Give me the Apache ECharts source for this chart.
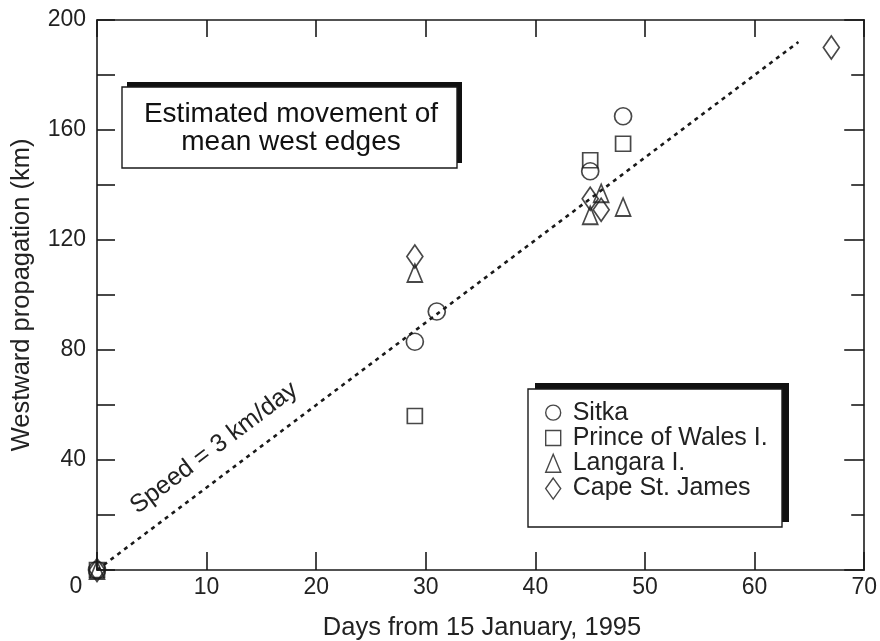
<!DOCTYPE html>
<html><head><meta charset="utf-8">
<script src="https://cdn.jsdelivr.net/npm/echarts@6/dist/echarts.min.js"></script>
<style>html,body{margin:0;padding:0;background:#fff}#c{width:880px;height:641px}</style>
</head><body><div id="c"></div>
<script>
// Data
const sitkaX = [0, 29, 31, 45, 48];
const sitkaY = [0, 83, 94, 145, 165];
const princeX = [0, 29, 45, 48];
const princeY = [0, 56, 149, 155];
const langaraX = [0, 29, 45, 46, 48];
const langaraY = [0, 108, 129, 137, 132];
const capeX = [0, 29, 45, 46, 67];
const capeY = [0, 114, 135, 131, 190];
const speedX = [0, 64];
const speedY = [0, 192];
const seriesNames = ['Sitka', 'Prince of Wales I.', 'Langara I.', 'Cape St. James'];
const xTicks = [0, 70, 10];
const yTicks = [0, 200, 20];

const FONT = '"Liberation Sans", Arial, sans-serif';
const INK = '#1a1a1a';
const TXT = '#222';
const zip = (xs, ys) => xs.map((x, i) => [x, ys[i]]);

const chart = echarts.init(document.getElementById('c'), null, {renderer: 'canvas'});
const markStyle = {color: 'rgba(0,0,0,0)', borderColor: INK, borderWidth: 1.7};
const legStyle = {color: 'rgba(0,0,0,0)', borderColor: INK, borderWidth: 1.4};
function sc(name, xs, ys, symbol, size) {
  return {
    type: 'scatter', name, data: zip(xs, ys), symbol, symbolSize: size,
    itemStyle: markStyle, clip: false, z: 5,
    emphasis: {disabled: true}
  };
}
const axisLine = {show: true, onZero: false, lineStyle: {color: INK, width: 1.6}};
chart.setOption({
  animation: false,
  textStyle: {fontFamily: FONT},
  grid: {left: 97, right: 13, top: 20, bottom: 71, containLabel: false},
  xAxis: [
    {type: 'value', min: xTicks[0], max: xTicks[1], interval: xTicks[2], position: 'bottom',
     axisLine, splitLine: {show: false},
     axisTick: {inside: true, length: 18, lineStyle: {color: INK, width: 1.6}},
     axisLabel: {fontSize: 23, color: TXT, margin: 6, fontFamily: FONT,
       formatter: v => v === 0 ? '' : String(v)}},
    {type: 'value', min: xTicks[0], max: xTicks[1], interval: xTicks[2], position: 'top',
     axisLine, splitLine: {show: false},
     axisTick: {inside: true, length: 17, lineStyle: {color: INK, width: 1.6}},
     axisLabel: {show: false}}
  ],
  yAxis: [
    {type: 'value', min: yTicks[0], max: yTicks[1], interval: yTicks[2], position: 'left',
     axisLine, splitLine: {show: false},
     axisTick: {inside: true, length: 18, lineStyle: {color: INK, width: 1.6}},
     axisLabel: {fontSize: 23, color: TXT, margin: 11, fontFamily: FONT,
       formatter: v => (v !== 0 && v % 40 === 0) ? String(v) : ''}},
    {type: 'value', min: yTicks[0], max: yTicks[1], interval: 40, position: 'right',
     axisLine, splitLine: {show: false},
     axisTick: {inside: true, length: 20, lineStyle: {color: INK, width: 1.6}},
     minorTick: {show: true, splitNumber: 2, length: 13, lineStyle: {color: INK, width: 1.6}},
     axisLabel: {show: false}}
  ],
  legend: {
    orient: 'vertical', left: 545, top: 400, itemGap: 0,
    itemWidth: 15, itemHeight: 22, padding: 0, symbolKeepAspect: true,
    textStyle: {fontSize: 25, lineHeight: 25.3, color: TXT, fontFamily: FONT, padding: [0, 0, 0, 7]},
    selectedMode: false,
    data: [
      {name: seriesNames[0], icon: 'circle', itemStyle: legStyle},
      {name: seriesNames[1], icon: 'path://M0,0H10V10H0Z', itemStyle: legStyle},
      {name: seriesNames[2], icon: 'path://M5,0L10,12H0Z', itemStyle: legStyle},
      {name: seriesNames[3], icon: 'path://M5,0L10,7L5,14L0,7Z', itemStyle: legStyle}
    ],
    z: 20
  },
  series: [
    {type: 'line', name: 'speed', data: zip(speedX, speedY), symbol: 'none',
     lineStyle: {color: INK, width: 2.6, type: [4, 4.5]}, z: 3, silent: true},
    sc(seriesNames[0], sitkaX, sitkaY, 'circle', 17),
    sc(seriesNames[1], princeX, princeY, 'rect', 15),
    sc(seriesNames[2], langaraX, langaraY, 'triangle', [15, 18]),
    sc(seriesNames[3], capeX, capeY, 'diamond', [16, 23])
  ],
  graphic: [
    // title box with shadow
    {type: 'rect', shape: {x: 127, y: 82, width: 335, height: 81}, style: {fill: '#111'}, z: 10},
    {type: 'rect', shape: {x: 122, y: 87, width: 335, height: 81}, style: {fill: '#fff', stroke: INK, lineWidth: 1.4}, z: 11},
    {type: 'text', x: 291, y: 128, z: 12,
     style: {text: 'Estimated movement of\nmean west edges', font: '28px ' + FONT, fill: '#111',
       align: 'center', verticalAlign: 'middle', lineHeight: 28}},
    // legend box with shadow
    {type: 'rect', shape: {x: 535, y: 383, width: 254, height: 139}, style: {fill: '#111'}, z: 10},
    {type: 'rect', shape: {x: 528, y: 389, width: 254, height: 138}, style: {fill: '#fff', stroke: INK, lineWidth: 1.4}, z: 11},
    // speed label
    {type: 'text', x: 214, y: 448, rotation: 37 * Math.PI / 180, z: 12,
     style: {text: 'Speed = 3 km/day', font: '25px ' + FONT, fill: TXT, align: 'center', verticalAlign: 'middle'}},
    // corner zero
    {type: 'text', x: 76, y: 587, z: 12,
     style: {text: '0', font: '23px ' + FONT, fill: TXT, align: 'center', verticalAlign: 'middle'}},
    // axis titles
    {type: 'text', x: 482, y: 628, z: 12,
     style: {text: 'Days from 15 January, 1995', font: '25.5px ' + FONT, fill: TXT, align: 'center', verticalAlign: 'middle'}},
    {type: 'text', x: 22, y: 295, rotation: Math.PI / 2, z: 12,
     style: {text: 'Westward propagation (km)', font: '25.5px ' + FONT, fill: TXT, align: 'center', verticalAlign: 'middle'}}
  ]
});
</script>
</body></html>
